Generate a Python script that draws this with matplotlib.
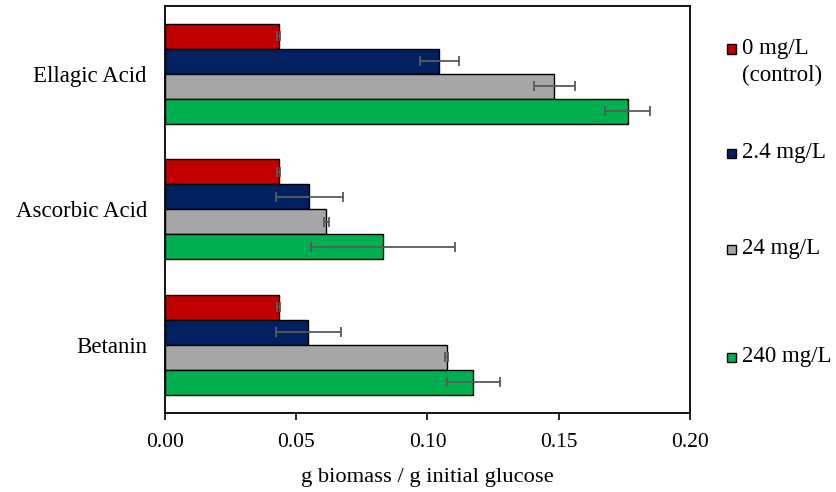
import matplotlib.pyplot as plt
import numpy as np
from matplotlib.patches import Rectangle

plt.rcParams['font.family'] = ['Liberation Serif', 'DejaVu Serif']

compounds = ["Ellagic Acid", "Ascorbic Acid", "Betanin"]
dose_labels = ["0 mg/L\n(control)", "2.4 mg/L", "24 mg/L", "240 mg/L"]
colors = ["#C00000", "#002060", "#A6A6A6", "#00B050"]

# biomass yield (g biomass / g initial glucose), order: Ellagic, Ascorbic, Betanin
yield_0mg = [0.0433, 0.0433, 0.0433]
yield_2p4mg = [0.1045, 0.0550, 0.0545]
yield_24mg = [0.1483, 0.0614, 0.1073]
yield_240mg = [0.1763, 0.0830, 0.1175]

err_0mg = [0.0005, 0.0005, 0.0005]
err_2p4mg = [0.0074, 0.0129, 0.0124]
err_24mg = [0.0078, 0.0009, 0.0005]
err_240mg = [0.0085, 0.0275, 0.0101]

series = [yield_0mg, yield_2p4mg, yield_24mg, yield_240mg]
errors = [err_0mg, err_2p4mg, err_24mg, err_240mg]

fig = plt.figure(figsize=(8.36, 4.92), dpi=100)
ax = fig.add_axes([165 / 836, 1 - 412.5 / 492, 525 / 836, 406.5 / 492])

pos = np.arange(len(compounds))[::-1]  # first compound at the top
h = 0.185
offsets = [1.5 * h, 0.5 * h, -0.5 * h, -1.5 * h]

for vals, errs, col, off in zip(series, errors, colors, offsets):
    ax.barh(pos + off, vals, height=h, color=col, edgecolor='black', linewidth=1.0,
            xerr=errs, error_kw=dict(ecolor='#595959', elinewidth=1.3, capsize=3.3, capthick=1.3))

xticks = [0, 0.05, 0.10, 0.15, 0.20]
ax.set_xlim(0, 0.20)
ax.set_ylim(-0.5, 2.5)
ax.set_xticks(xticks)
ax.set_xticklabels([f"{v:.2f}" for v in xticks])
ax.set_yticks(pos)
ax.set_yticklabels(compounds)
ax.tick_params(axis='x', direction='out', length=5, width=1.2, pad=10, labelsize=15.5)
ax.tick_params(axis='y', length=0, pad=13, labelsize=16.5)
for s in ax.spines.values():
    s.set_linewidth(1.3)
ax.set_xlabel("g biomass / g initial glucose", fontsize=16.2, labelpad=11)

# legend drawn by hand so two-line entry keeps its marker on the first line
legend_y = [49, 153, 249, 357]
for lab, col, yy in zip(dose_labels, colors, legend_y):
    fig.add_artist(Rectangle((727 / 836, 1 - (yy + 4.5) / 492), 9 / 836, 9 / 492,
                             transform=fig.transFigure, facecolor=col,
                             edgecolor='black', linewidth=1.0))
    fig.text(742 / 836, 1 - (yy - 11) / 492, lab, fontsize=16.5, va='top', ha='left',
             linespacing=1.35)

fig.savefig("out.png", dpi=100)
